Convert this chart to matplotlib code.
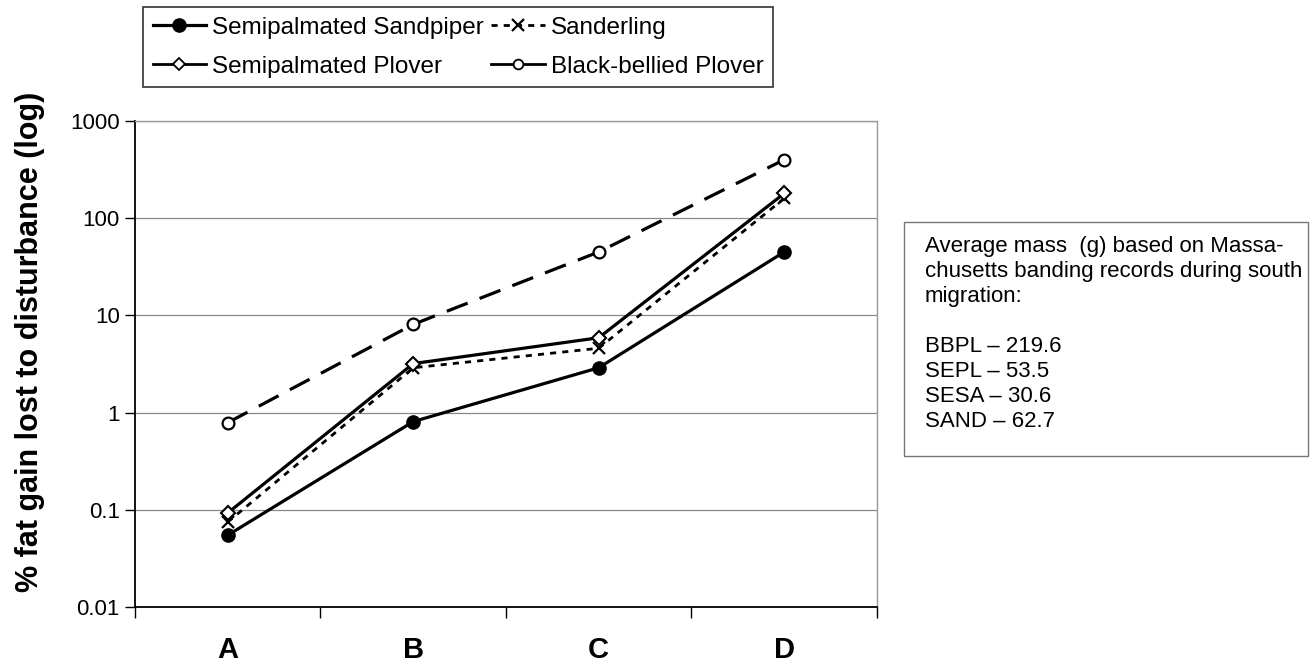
import numpy as np
import matplotlib.pyplot as plt
from matplotlib.lines import Line2D
from matplotlib.patches import Rectangle

plt.rcParams['font.family'] = ['Liberation Sans', 'DejaVu Sans']

# data
sites = ['A', 'B', 'C', 'D']
sesa = [0.055, 0.81, 2.9, 45]      # Semipalmated Sandpiper
sand = [0.075, 2.9, 4.6, 160]      # Sanderling
sepl = [0.093, 3.2, 5.9, 180]      # Semipalmated Plover
bbpl = [0.79, 8.1, 45, 400]        # Black-bellied Plover

names = ['Semipalmated Sandpiper', 'Sanderling',
         'Semipalmated Plover', 'Black-bellied Plover']
box_lines = ['Average mass  (g) based on Massa-',
             'chusetts banding records during south',
             'migration:',
             '',
             'BBPL \u2013 219.6',
             'SEPL \u2013 53.5',
             'SESA \u2013 30.6',
             'SAND \u2013 62.7']

fig = plt.figure(figsize=(13.12, 6.65), dpi=100)
ax = fig.add_axes([0.1029, 0.087, 0.5655, 0.731])

x = np.arange(len(sites))
ax.plot(x, sesa, '-', color='black', lw=2.3, marker='o', ms=9.5,
        mfc='black', mec='black', zorder=3)
ax.plot(x, sand, color='black', lw=2.0, ls=(0, (2.2, 2.2)), marker='x',
        ms=9, mew=1.6, zorder=3)
ax.plot(x, sepl, '-', color='black', lw=2.3, marker='D', ms=7.5,
        mfc='white', mec='black', mew=1.5, zorder=4)
ax.plot(x, bbpl, color='black', lw=2.3, ls=(0, (7, 4)), marker='o', ms=8.5,
        mfc='white', mec='black', mew=1.6, zorder=4)

ax.set_yscale('log')
ax.set_ylim(0.01, 1000)
ax.set_xlim(-0.5, 3.5)
ax.set_yticks([0.01, 0.1, 1, 10, 100, 1000])
ax.set_yticklabels(['0.01', '0.1', '1', '10', '100', '1000'], fontsize=16)
ax.yaxis.set_minor_locator(plt.NullLocator())
ax.grid(axis='y', color='#888888', lw=0.9)
ax.set_axisbelow(True)
ax.tick_params(axis='y', direction='out', length=7, width=1, pad=4)

ax.set_xticks(x)
ax.set_xticklabels(sites, fontsize=21, fontweight='bold')
ax.set_xticks(np.arange(-0.5, 4, 1), minor=True)
ax.tick_params(axis='x', which='major', length=0, pad=21)
ax.tick_params(axis='x', which='minor', direction='out', length=8, width=1)

for side in ['top', 'right']:
    ax.spines[side].set_color('#999999')
    ax.spines[side].set_linestyle((0, (1, 1)))
    ax.spines[side].set_linewidth(1)
ax.spines['left'].set_linewidth(1.3)
ax.spines['bottom'].set_linewidth(1.3)

ax.set_ylabel('% fat gain lost to disturbance (log)', fontsize=22,
              fontweight='bold')
ax.yaxis.set_label_coords(-0.121, 0.545)

# legend (filled column-wise, so order gives the reference rows)
h_sesa = Line2D([], [], color='black', lw=2.3, marker='o', ms=9.5, mfc='black')
h_sand = Line2D([], [], color='black', lw=2.0, ls=(0, (2.2, 2.2)), marker='x',
                ms=9, mew=1.6)
h_sepl = Line2D([], [], color='black', lw=2.0, marker='D', ms=6.5,
                mfc='white', mew=1.3)
h_bbpl = Line2D([], [], color='black', lw=2.0, marker='o', ms=7, mfc='white',
                mew=1.3)
leg = fig.legend([h_sesa, h_sepl, h_sand, h_bbpl],
                 [names[0], names[2], names[1], names[3]],
                 ncol=2, loc='upper left',
                 bbox_to_anchor=(143 / 1312, 1 - 7 / 665), fontsize=17.5,
                 frameon=True, fancybox=False, handlelength=2.2,
                 handletextpad=0.25, columnspacing=0.3, labelspacing=0.7,
                 borderpad=0.4, borderaxespad=0)
leg.get_frame().set_edgecolor('black')
leg.get_frame().set_linewidth(1.2)

# text box
fig.patches.append(Rectangle((904 / 1312, 1 - 456 / 665), 404 / 1312,
                             234 / 665, transform=fig.transFigure,
                             fill=False, edgecolor='#777777', lw=1))
fig.text(925 / 1312, 1 - 236 / 665, '\n'.join(box_lines), fontsize=16,
         va='top', ha='left', linespacing=1.25)

fig.savefig('out.png', dpi=100)
